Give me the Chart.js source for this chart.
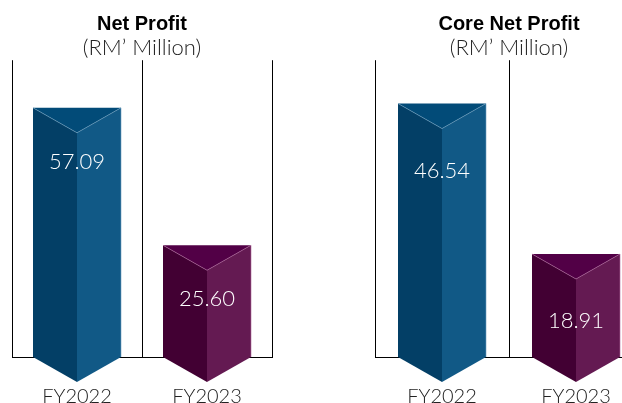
<!DOCTYPE html>
<html>
<head>
<meta charset="utf-8">
<script src="https://cdn.jsdelivr.net/npm/chart.js@4.4.1/dist/chart.umd.min.js"></script>
<style>
    html, body { margin: 0; padding: 0; background: #fff; overflow: hidden; }
    #wrap { position: relative; width: 622px; height: 403px; overflow: hidden; }
    .box { position: absolute; top: 0; height: 403px; }
    #leftBox { left: 0; width: 292px; }
    #rightBox { left: 300px; width: 360px; }
</style>
</head>
<body>
<div id="wrap">
    <div class="box" id="leftBox"><canvas id="netChart"></canvas></div>
    <div class="box" id="rightBox"><canvas id="coreChart"></canvas></div>
</div>
<script>
    const categories = ["FY2022", "FY2023"];
    const netProfit = [57.09, 25.60];
    const coreNetProfit = [46.54, 18.91];
    const subtitleText = "(RM\u2019 Million)";

    // top / left / right face colours for each year
    const faceColours = [
        { top: "#024b78", left: "#033f66", right: "#115986", edge: "#6f9fc0" },
        { top: "#520046", left: "#420033", right: "#641a52", edge: "#b06a9c" },
    ];

    const prismPlugin = {
        id: "prism",
        afterDraw(chart, args, opts) {
            const ctx = chart.ctx;
            const meta = chart.getDatasetMeta(0);
            const depth = 25;
            meta.data.forEach((bar, i) => {
                const c = faceColours[i];
                const half = bar.width / 2;
                const x = bar.x, y = bar.y, b = bar.base;
                ctx.save();
                // left face
                ctx.fillStyle = c.left;
                ctx.beginPath();
                ctx.moveTo(x - half, y);
                ctx.lineTo(x, y + depth);
                ctx.lineTo(x, b + depth);
                ctx.lineTo(x - half, b);
                ctx.closePath();
                ctx.fill();
                // right face
                ctx.fillStyle = c.right;
                ctx.beginPath();
                ctx.moveTo(x + half, y);
                ctx.lineTo(x, y + depth);
                ctx.lineTo(x, b + depth);
                ctx.lineTo(x + half, b);
                ctx.closePath();
                ctx.fill();
                // top triangle
                ctx.fillStyle = c.top;
                ctx.beginPath();
                ctx.moveTo(x - half, y);
                ctx.lineTo(x + half, y);
                ctx.lineTo(x, y + depth);
                ctx.closePath();
                ctx.fill();
                ctx.strokeStyle = c.edge;
                ctx.lineWidth = 0.6;
                ctx.beginPath();
                ctx.moveTo(x - half, y);
                ctx.lineTo(x, y + depth);
                ctx.lineTo(x + half, y);
                ctx.moveTo(x + half, y);
                ctx.lineTo(x + half, b);
                ctx.stroke();
                // value
                ctx.fillStyle = "#ffffff";
                ctx.font = "300 22px Lato, 'DejaVu Sans', sans-serif";
                ctx.textAlign = "center";
                ctx.textBaseline = "middle";
                const value = chart.data.datasets[0].data[i];
                ctx.fillText(value.toFixed(2), x, y + opts.labelOffset);
                ctx.restore();
            });
        },
    };

    const buildChart = (id, title, values, yMax, padLeft, padRight, labelOffset) => {
        const ctx = document.getElementById(id).getContext("2d");
        return new Chart(ctx, {
            type: "bar",
            data: {
                labels: categories,
                datasets: [
                    {
                        data: values,
                        backgroundColor: "rgba(0,0,0,0)",
                        borderWidth: 0,
                        barThickness: 88,
                    },
                ],
            },
            options: {
                animation: false,
                responsive: true,
                maintainAspectRatio: false,
                layout: { padding: { left: padLeft, right: padRight, top: 0, bottom: 0 } },
                plugins: {
                    legend: { display: false },
                    tooltip: { enabled: false },
                    prism: { labelOffset },
                    title: {
                        display: true,
                        text: title,
                        color: "#000",
                        font: { family: "'Liberation Sans', Arial, sans-serif", size: 20, weight: "bold", lineHeight: 1.0 },
                        padding: { top: 14, bottom: 0 },
                    },
                    subtitle: {
                        display: true,
                        text: subtitleText,
                        color: "#222",
                        font: { family: "Lato, sans-serif", size: 22, weight: 300, lineHeight: 1.1 },
                        padding: { top: 2, bottom: 0 },
                    },
                },
                scales: {
                    x: {
                        grid: { display: true, offset: true, color: "#000", lineWidth: 1, drawTicks: false },
                        border: { display: true, color: "#000", width: 1 },
                        ticks: {
                            color: "#222",
                            padding: 28,
                            font: { family: "Lato, sans-serif", size: 20, weight: 300 },
                        },
                        afterFit: (scale) => { scale.height = 46; },
                    },
                    y: {
                        display: false,
                        min: 0,
                        max: yMax,
                    },
                },
            },
            plugins: [prismPlugin],
        });
    };

    buildChart("netChart", "Net Profit", netProfit, 68, 12, 20, 54);
    buildChart("coreChart", "Core Net Profit", coreNetProfit, 54.5, 75, 17, 67);
</script>
</body>
</html>
